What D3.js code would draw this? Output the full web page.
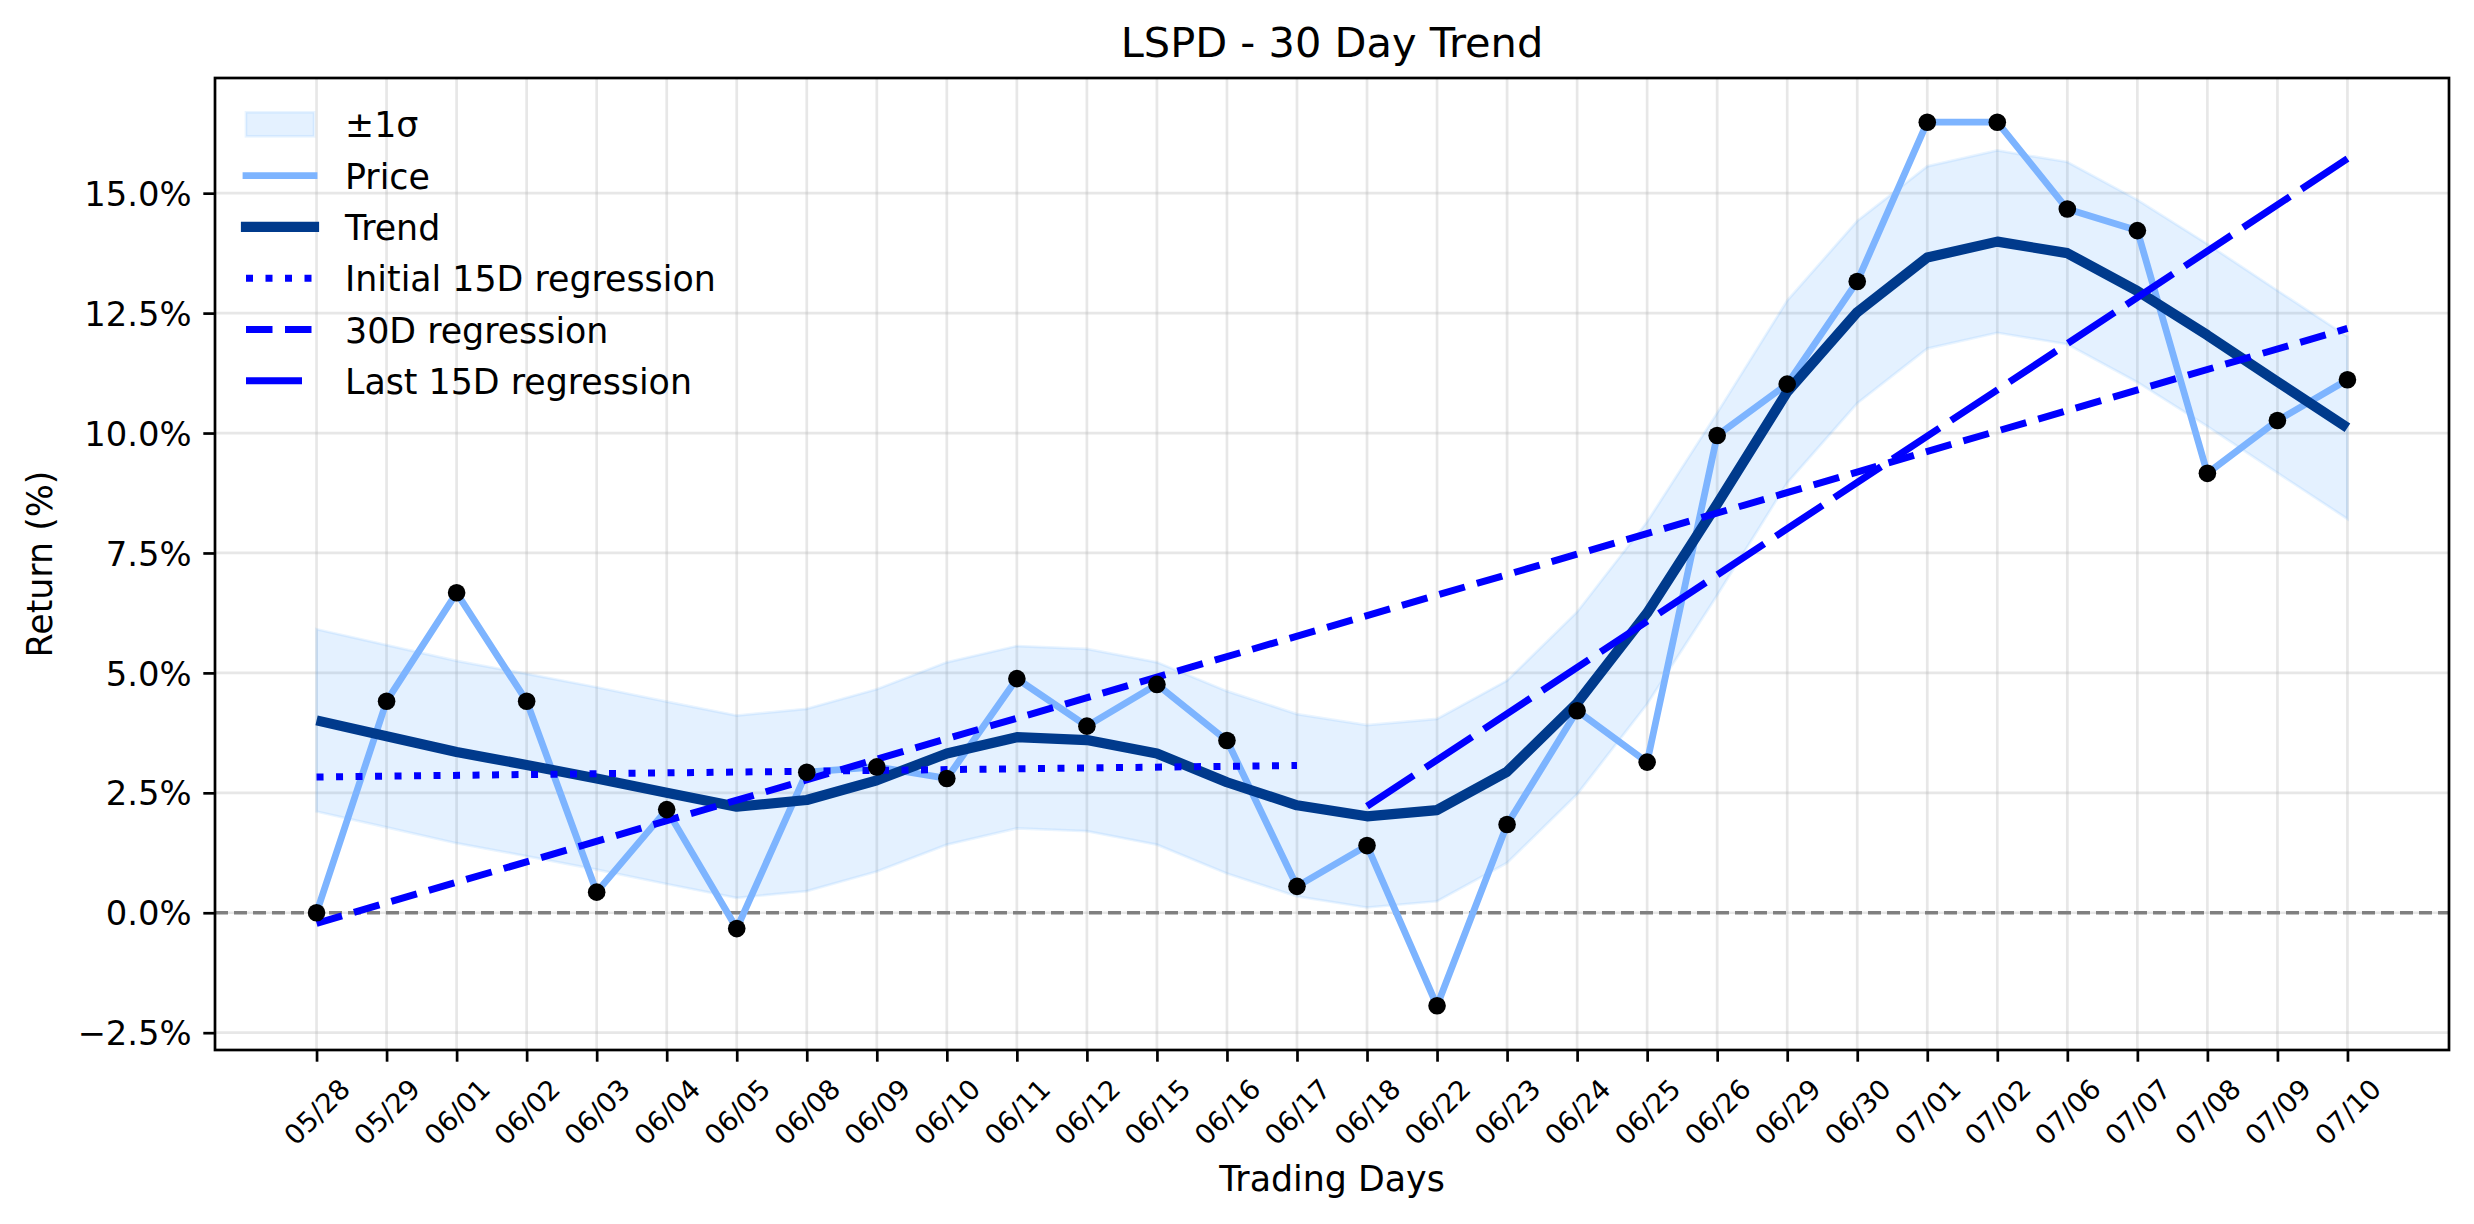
<!DOCTYPE html>
<html>
<head>
<meta charset="utf-8">
<script src="https://cdn.jsdelivr.net/npm/d3@7"></script>
<style>
  body { margin: 0; background: #fff; }
  text { font-family: "DejaVu Sans", sans-serif; fill: #000; }
</style>
</head>
<body>
<script>
const dates = ['05/28', '05/29', '06/01', '06/02', '06/03', '06/04', '06/05', '06/08', '06/09', '06/10',
               '06/11', '06/12', '06/15', '06/16', '06/17', '06/18', '06/22', '06/23', '06/24', '06/25',
               '06/26', '06/29', '06/30', '07/01', '07/02', '07/06', '07/07', '07/08', '07/09', '07/10'];
const price = [0.00, 4.41, 6.67, 4.41, 0.43, 2.15, -0.33, 2.93, 3.04, 2.80,
               4.88, 3.89, 4.76, 3.59, 0.55, 1.40, -1.94, 1.84, 4.21, 3.14,
               9.95, 11.02, 13.16, 16.48, 16.48, 14.67, 14.22, 9.16, 10.26, 11.11];
const trend = [4.01, 3.68, 3.35, 3.08, 2.80, 2.50, 2.21, 2.35, 2.76, 3.32,
               3.66, 3.60, 3.32, 2.72, 2.24, 2.01, 2.14, 2.94, 4.37, 6.25,
               8.52, 10.86, 12.52, 13.66, 13.99, 13.75, 12.96, 12.04, 11.07, 10.11];
const bandUpper = [5.91, 5.58, 5.25, 4.98, 4.70, 4.40, 4.11, 4.25, 4.66, 5.22,
                   5.56, 5.50, 5.22, 4.62, 4.14, 3.91, 4.04, 4.84, 6.27, 8.15,
                   10.42, 12.76, 14.42, 15.56, 15.89, 15.65, 14.86, 13.94, 12.97, 12.01];
const bandLower = [2.11, 1.78, 1.45, 1.18, 0.90, 0.60, 0.31, 0.45, 0.86, 1.42,
                   1.76, 1.70, 1.42, 0.82, 0.34, 0.11, 0.24, 1.04, 2.47, 4.35,
                   6.62, 8.96, 10.62, 11.76, 12.09, 11.85, 11.06, 10.14, 9.17, 8.21];
const initialRegIdx = [0, 14];
const initialRegVal = [2.83, 3.07];
const fullRegIdx = [0, 29];
const fullRegVal = [-0.22, 12.18];
const lastRegIdx = [15, 29];
const lastRegVal = [2.22, 15.72];
const yTicks = [-2.5, 0, 2.5, 5, 7.5, 10, 12.5, 15];
const legendLabels = ['±1σ', 'Price', 'Trend', 'Initial 15D regression', '30D regression', 'Last 15D regression'];

const w = 2474;
const h = 1224;
const pLeft = 215, pRight = 2449, pTop = 78, pBottom = 1050;

const n = dates.length;
const xScale = d3.scaleLinear()
                 .domain([-(n - 1) * 0.05, (n - 1) * 1.05])
                 .range([pLeft, pRight]);

const allVals = price.concat(bandUpper, bandLower, initialRegVal, fullRegVal, lastRegVal);
const yMin = d3.min(allVals), yMax = d3.max(allVals);
const yPad = (yMax - yMin) * 0.05;
const yScale = d3.scaleLinear()
                 .domain([yMin - yPad, yMax + yPad])
                 .range([pBottom, pTop]);

const svg = d3.select('body')
              .append('svg')
              .attr('width', w)
              .attr('height', h);

svg.append('rect').attr('width', w).attr('height', h).attr('fill', '#fff');

// grid
svg.append('g').selectAll('line')
   .data(d3.range(n))
   .enter()
   .append('line')
   .attr('x1', (d) => xScale(d)).attr('x2', (d) => xScale(d))
   .attr('y1', pTop).attr('y2', pBottom)
   .attr('stroke', '#b0b0b0').attr('stroke-opacity', 0.3).attr('stroke-width', 2.7);
svg.append('g').selectAll('line')
   .data(yTicks)
   .enter()
   .append('line')
   .attr('y1', (d) => yScale(d)).attr('y2', (d) => yScale(d))
   .attr('x1', pLeft).attr('x2', pRight)
   .attr('stroke', '#b0b0b0').attr('stroke-opacity', 0.3).attr('stroke-width', 2.7);

const bandFill = '#4da3ff';
const area = d3.area()
               .x((d, i) => xScale(i))
               .y0((d, i) => yScale(bandLower[i]))
               .y1((d, i) => yScale(bandUpper[i]));
svg.append('path')
   .datum(bandUpper)
   .attr('d', area)
   .attr('fill', bandFill).attr('fill-opacity', 0.15)
   .attr('stroke', bandFill).attr('stroke-opacity', 0.12).attr('stroke-width', 2.7);

svg.append('line')
   .attr('x1', pLeft).attr('x2', pRight)
   .attr('y1', yScale(0)).attr('y2', yScale(0))
   .attr('stroke', '#808080').attr('stroke-width', 3.4)
   .attr('stroke-dasharray', '13,6');

const line = d3.line()
               .x((d) => xScale(d[0]))
               .y((d) => yScale(d[1]));

svg.append('path')
   .datum(price.map((d, i) => [i, d]))
   .attr('d', line)
   .attr('fill', 'none').attr('stroke', '#7db4ff').attr('stroke-width', 6.8)
   .attr('stroke-linejoin', 'round');

svg.append('path')
   .datum(trend.map((d, i) => [i, d]))
   .attr('d', line)
   .attr('fill', 'none').attr('stroke', '#003a8c').attr('stroke-width', 10.2)
   .attr('stroke-linejoin', 'round');

const regBlue = '#0000ff';
const regs = [
  { idx: initialRegIdx, val: initialRegVal, dash: '7,12.5' },
  { idx: fullRegIdx, val: fullRegVal, dash: '26.5,12.5' },
  { idx: lastRegIdx, val: lastRegVal, dash: '56,14' }
];
regs.forEach((r) => {
  svg.append('path')
     .datum(r.idx.map((d, i) => [d, r.val[i]]))
     .attr('d', line)
     .attr('fill', 'none').attr('stroke', regBlue).attr('stroke-width', 7)
     .attr('stroke-dasharray', r.dash);
});

svg.append('g').selectAll('circle')
   .data(price)
   .enter()
   .append('circle')
   .attr('cx', (d, i) => xScale(i))
   .attr('cy', (d) => yScale(d))
   .attr('r', 8.8)
   .attr('fill', '#000');

// axes
const xAxis = d3.axisBottom(xScale)
                .tickValues(d3.range(n))
                .tickFormat((d) => dates[d])
                .tickSize(11.7)
                .tickSizeOuter(0);
const xg = svg.append('g')
              .attr('transform', 'translate(0,' + pBottom + ')')
              .call(xAxis);
xg.select('.domain').remove();
xg.selectAll('.tick line').attr('stroke', '#000').attr('stroke-width', 2.7);
xg.selectAll('.tick text')
  .attr('y', 0).attr('dy', '0.35em')
  .attr('transform', 'translate(0,62) rotate(-45)')
  .style('text-anchor', 'middle')
  .style('font-size', '27.5px')
  .attr('fill', '#000')
  .attr('font-family', 'DejaVu Sans');

const yAxis = d3.axisLeft(yScale)
                .tickValues(yTicks)
                .tickFormat((d) => d3.format('.1f')(d) + '%')
                .tickSize(11.7)
                .tickPadding(11.7)
                .tickSizeOuter(0);
const yg = svg.append('g')
              .attr('transform', 'translate(' + pLeft + ',0)')
              .call(yAxis);
yg.select('.domain').remove();
yg.selectAll('.tick line').attr('stroke', '#000').attr('stroke-width', 2.7);
yg.selectAll('.tick text')
  .attr('dy', '0.36em')
  .style('font-size', '33.8px')
  .attr('fill', '#000')
  .attr('font-family', 'DejaVu Sans');

svg.append('rect')
   .attr('x', pLeft).attr('y', pTop)
   .attr('width', pRight - pLeft).attr('height', pBottom - pTop)
   .attr('fill', 'none').attr('stroke', '#000').attr('stroke-width', 2.7);

svg.append('text').text('LSPD - 30 Day Trend')
   .attr('x', (pLeft + pRight) / 2).attr('y', 57)
   .attr('text-anchor', 'middle').style('font-size', '41.5px');
svg.append('text').text('Trading Days')
   .attr('x', (pLeft + pRight) / 2).attr('y', 1191)
   .attr('text-anchor', 'middle').style('font-size', '34.8px');
svg.append('text').text('Return (%)')
   .attr('transform', 'translate(52,' + (pTop + pBottom) / 2 + ') rotate(-90)')
   .attr('text-anchor', 'middle').style('font-size', '34.8px');

// legend
const lg = svg.append('g');
const legX0 = 246, legX1 = 314, legY0 = 124.3, legStep = 51.3;
lg.append('rect')
  .attr('x', legX0).attr('y', legY0 - 12).attr('width', legX1 - legX0).attr('height', 24)
  .attr('fill', bandFill).attr('fill-opacity', 0.15)
  .attr('stroke', bandFill).attr('stroke-opacity', 0.12).attr('stroke-width', 2.7);
const handleStyles = [
  null,
  { color: '#7db4ff', width: 6.8, dash: null },
  { color: '#003a8c', width: 10.2, dash: null },
  { color: regBlue, width: 7, dash: regs[0].dash },
  { color: regBlue, width: 7, dash: regs[1].dash },
  { color: regBlue, width: 7, dash: regs[2].dash }
];
handleStyles.forEach((s, i) => {
  if (!s) return;
  lg.append('line')
    .attr('x1', legX0).attr('x2', legX1)
    .attr('y1', legY0 + i * legStep).attr('y2', legY0 + i * legStep)
    .attr('stroke', s.color).attr('stroke-width', s.width)
    .attr('stroke-linecap', s.dash ? 'butt' : 'square')
    .attr('stroke-dasharray', s.dash);
});
lg.selectAll('text')
  .data(legendLabels)
  .enter()
  .append('text')
  .text((d) => d)
  .attr('x', 345)
  .attr('y', (d, i) => legY0 + i * legStep + 13)
  .style('font-size', '34.8px');
</script>
</body>
</html>
